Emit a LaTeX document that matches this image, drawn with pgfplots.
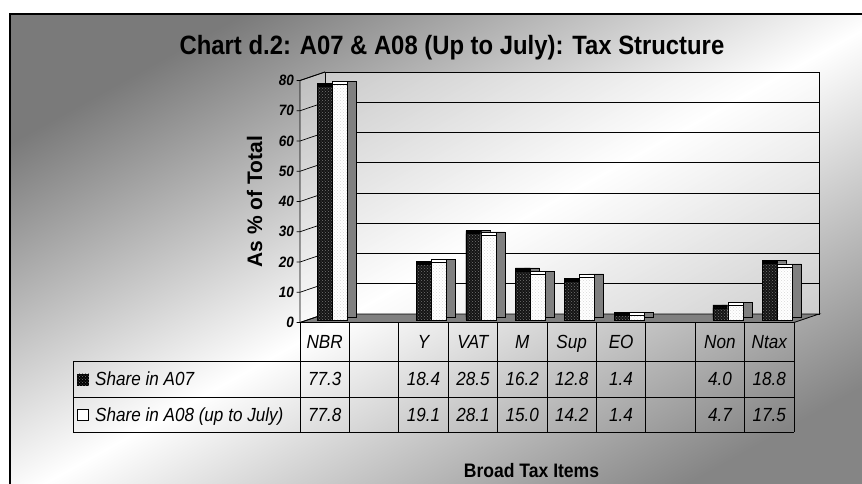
\documentclass[border=0pt]{standalone}
\usepackage{pgfplots}
\pgfplotsset{compat=1.18}
\usepackage{pgfplotstable}
\usepackage{fontspec}
\setmainfont{Liberation Sans}[FakeStretch=0.9]
\newfontfamily\ylabfont{Liberation Sans}
\usetikzlibrary{patterns}

\pgfplotstableread{
x a07 a08
0 77.3 77.8
2 18.4 19.1
3 28.5 28.1
4 16.2 15.0
5 12.8 14.2
6 1.4 1.4
8 4.0 4.7
9 18.8 17.5
}\taxdata

\definecolor{sidegray}{HTML}{808080}

\begin{document}
\begin{tikzpicture}[x=1pt,y=1pt]
\useasboundingbox (0,0) rectangle (862,483);
% background and frame
\begin{scope}
\clip (0,0) rectangle (862,483);
\fill[white] (0,0) rectangle (862,483);
\shade[top color=black!52, bottom color=black!48, middle color=white, shading angle=29] (10,-20) rectangle (890,469);
\draw[line width=1.3pt] (10,-20) -- (10,469) -- (890,469);
\end{scope}

% back wall with grid
\begin{axis}[at={(325pt,169pt)}, anchor=south west, scale only axis,
  width=494pt, height=242pt, xmin=-0.5, xmax=9.5, ymin=0, ymax=80,
  xtick=\empty, ytick=\empty,
  axis line style={black, line width=0.8pt},
  axis background/.style={fill=white, fill opacity=0.45}]
\pgfplotsinvokeforeach{10,20,...,70}{
  \draw[black, line width=0.7pt] (axis cs:-0.5,#1) -- (axis cs:9.5,#1);
}
\end{axis}

% left wall and floor
\fill[white, opacity=0.35] (300,160.5) -- (325,169) -- (325,411) -- (300,402.5) -- cycle;
\draw[line width=0.8pt] (300,160.5) -- (300,402.5) -- (325,411);
\draw[fill=sidegray, line width=0.8pt] (300,160.5) -- (794,160.5) -- (819,169) -- (325,169) -- cycle;
% slanted ticks
\foreach \v in {0,10,...,80} {
  \draw[line width=0.7pt] (296.5,160.5+3.025*\v) -- (300,160.5+3.025*\v) -- (325,169+3.025*\v);
}

% bars
\begin{axis}[at={(308pt,163.1pt)}, anchor=south west, scale only axis,
  width=494pt, height=242pt, xmin=-0.5, xmax=9.5, ymin=0, ymax=80,
  hide axis, clip=false, ybar=0pt, bar width=15pt]
\addplot[draw=black, line width=0.6pt, fill=black!92,
  preaction={fill=sidegray, draw=black, line width=0.6pt, transform canvas={shift={(9pt,3pt)}}},
  preaction={fill=black, draw=black, line width=0.6pt, transform canvas={shift={(0pt,3pt)}}},
  postaction={pattern=crosshatch dots, pattern color=black!55}]
  table[x=x, y=a07] {\taxdata};
\addplot[draw=black, line width=0.6pt, fill=white,
  preaction={fill=sidegray, draw=black, line width=0.6pt, transform canvas={shift={(9pt,3pt)}}},
  preaction={fill=white, draw=black, line width=0.6pt, transform canvas={shift={(0pt,3pt)}}},
  postaction={pattern=crosshatch dots, pattern color=black!15}]
  table[x=x, y=a08] {\taxdata};
\end{axis}

% front axis with tick labels
\begin{axis}[at={(300pt,160.5pt)}, anchor=south west, scale only axis,
  width=494pt, height=242pt, xmin=-0.5, xmax=9.5, ymin=0, ymax=80,
  axis line style={draw=none}, xtick=\empty, ytick={0,10,...,80},
  major tick length=0pt,
  /pgf/number format/assume math mode=true,
  yticklabel style={font=\fontsize{15}{17}\selectfont\bfseries\itshape, inner sep=0pt, anchor=east, xshift=-6pt}]
\end{axis}

% titles
\node[anchor=base, inner sep=0pt, font=\bfseries\fontsize{26.5}{30}\selectfont] at (452,428) {Chart d.2: A07 \& A08 (Up to July): Tax Structure};
\node[rotate=90, inner sep=0pt, font=\ylabfont\bfseries\fontsize{21}{25}\selectfont] at (254.5,281.5) {As \% of Total};
\node[anchor=base, inner sep=0pt, font=\bfseries\fontsize{19.5}{22}\selectfont] at (531.5,6) {Broad Tax Items};

% data table
\foreach \k in {0,...,10} {
  \draw[line width=0.8pt] (300+49.4*\k,160.5) -- (300+49.4*\k,51);
}
\draw[line width=0.8pt] (73,122) -- (794,122);
\draw[line width=0.8pt] (73,86) -- (794,86);
\draw[line width=0.8pt] (73,51) -- (794,51);
\draw[line width=0.8pt] (73,122) -- (73,51);
\foreach \lab [count=\i from 0] in {NBR,,Y,VAT,M,Sup,EO,,Non,Ntax} {
  \node[anchor=base, inner sep=0pt, font=\itshape\fontsize{19}{21}\selectfont] at (324.7+49.4*\i,135) {\lab};
}
\foreach \val [count=\i from 0] in {77.3,,18.4,28.5,16.2,12.8,1.4,,4.0,18.8} {
  \node[anchor=base, inner sep=0pt, font=\itshape\fontsize{19}{21}\selectfont] at (324.7+49.4*\i,97.5) {\val};
}
\foreach \val [count=\i from 0] in {77.8,,19.1,28.1,15.0,14.2,1.4,,4.7,17.5} {
  \node[anchor=base, inner sep=0pt, font=\itshape\fontsize{19}{21}\selectfont] at (324.7+49.4*\i,62) {\val};
}
\fill[black] (77,97.5) rectangle (89,109.5);
\fill[pattern=crosshatch dots, pattern color=black!55] (77,97.5) rectangle (89,109.5);
\draw[fill=white, line width=0.8pt] (77.5,62.5) rectangle (88.5,73.5);
\node[anchor=base west, inner sep=0pt, font=\itshape\fontsize{19}{21}\selectfont] at (95,97.5) {Share in A07};
\node[anchor=base west, inner sep=0pt, font=\itshape\fontsize{19}{21}\selectfont] at (95,62) {Share in A08 (up to July)};
\end{tikzpicture}
\end{document}
